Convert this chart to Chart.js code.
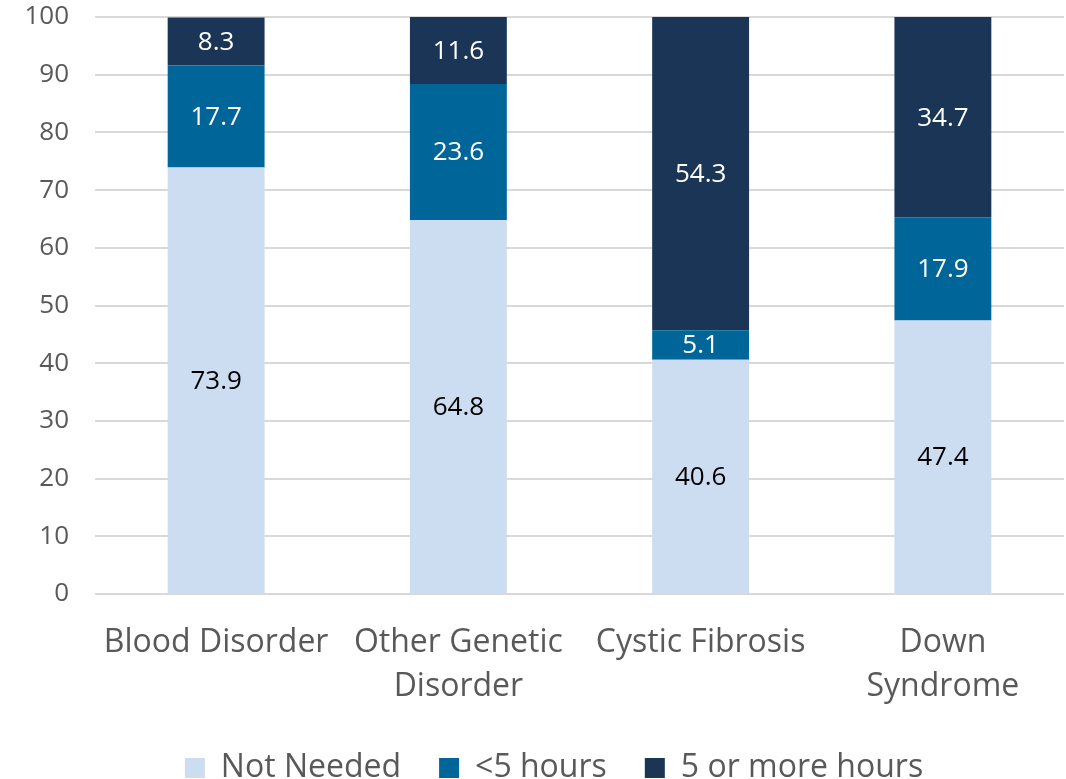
<!DOCTYPE html>
<html>
<head>
<meta charset="utf-8">
<script src="https://cdn.jsdelivr.net/npm/chart.js@4"></script>
<style>
  html, body { margin: 0; padding: 0; background: #fff; }
  #wrap { width: 1066px; height: 779px; }
</style>
</head>
<body>
<div id="wrap"><canvas id="grafico"></canvas></div>
<script>
// dados
const categorias = [['Blood Disorder'], ['Other Genetic', 'Disorder'], ['Cystic Fibrosis'], ['Down', 'Syndrome']];
const naoPrecisa = [73.9, 64.8, 40.6, 47.4];
const menos5h = [17.7, 23.6, 5.1, 17.9];
const mais5h = [8.3, 11.6, 54.3, 34.7];
const ticksY = [0, 10, 20, 30, 40, 50, 60, 70, 80, 90, 100];

const fonte = "'Open Sans', 'Noto Sans', sans-serif";

// rotulos dentro das barras (sem plugin externo)
const rotulos = {
    id: 'rotulos',
    afterDatasetsDraw(chart) {
        const ctx = chart.ctx;
        ctx.save();
        ctx.font = '26px ' + fonte;
        ctx.textAlign = 'center';
        ctx.textBaseline = 'middle';
        chart.data.datasets.forEach((ds, i) => {
            const meta = chart.getDatasetMeta(i);
            meta.data.forEach((bar, j) => {
                const y = (bar.y + bar.base) / 2;
                ctx.fillStyle = ds.corRotulo;
                ctx.fillText(ds.data[j].toFixed(1), bar.x, y + 1);
            });
        });
        ctx.restore();
    }
};

// legenda um pouco deslocada, como no original
const moverLegenda = {
    id: 'moverLegenda',
    afterLayout(chart) {
        const lg = chart.legend;
        lg.left += 22; lg.right += 22;
        lg.top += 5; lg.bottom += 5;
    }
};

function montarGrafico() {
    const graf = document.getElementById('grafico').getContext('2d');

    const meuGrafico = new Chart(graf, {
        type: 'bar',
        data: {
            labels: categorias,
            datasets: [
                {
                    label: 'Not Needed',
                    data: naoPrecisa,
                    backgroundColor: '#CCDDF1',
                    corRotulo: '#000000'
                },
                {
                    label: '<5 hours',
                    data: menos5h,
                    backgroundColor: '#006699',
                    corRotulo: '#ffffff'
                },
                {
                    label: '5 or more hours',
                    data: mais5h,
                    backgroundColor: '#1B3556',
                    corRotulo: '#ffffff'
                }
            ]
        },
        options: {
            responsive: true,
            maintainAspectRatio: false,
            animation: false,
            layout: {
                padding: {top: 0, right: 2, left: 0, bottom: -10}
            },
            datasets: {
                bar: {categoryPercentage: 1, barPercentage: 0.4}
            },
            scales: {
                x: {
                    stacked: true,
                    grid: {display: false},
                    border: {display: false},
                    ticks: {
                        color: '#595959',
                        font: {family: fonte, size: 32, lineHeight: 1.4},
                        maxRotation: 0,
                        padding: 18
                    },
                    afterFit(axis) { axis.height = 115; }
                },
                y: {
                    stacked: true,
                    min: 0,
                    max: 100,
                    afterBuildTicks(axis) { axis.ticks = ticksY.map(v => ({value: v})); },
                    grid: {color: '#D9D9D9', lineWidth: 2, drawTicks: false},
                    border: {display: false},
                    ticks: {
                        color: '#595959',
                        font: {family: fonte, size: 26},
                        padding: 26
                    },
                    afterFit(axis) {
                        axis.width = 95;
                        axis.paddingTop = 17; // a borda de cima fica em y=17
                        axis.paddingBottom = 0;
                    }
                }
            },
            plugins: {
                legend: {
                    position: 'bottom',
                    labels: {
                        color: '#595959',
                        font: {family: fonte, size: 32},
                        boxWidth: 20,
                        boxHeight: 20,
                        padding: 38
                    }
                },
                tooltip: {enabled: false}
            }
        },
        plugins: [rotulos, moverLegenda]
    });
}

montarGrafico();
</script>
</body>
</html>
